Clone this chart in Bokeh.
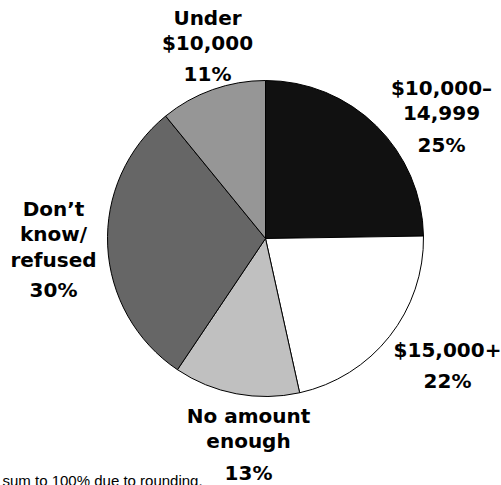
import math
from bokeh.plotting import figure
from bokeh.models import ColumnDataSource, Range1d
from bokeh.core.properties import value
from bokeh.embed import file_html
from bokeh.resources import INLINE

# ---- data (clockwise from 12 o'clock) ----
categories = ["$10,000–14,999", "$15,000+", "No amount enough", "Don’t know/refused", "Under $10,000"]
label_lines = [["$10,000–", "14,999"], ["$15,000+"], ["No amount", "enough"],
               ["Don’t", "know/", "refused"], ["Under", "$10,000"]]
shares = [25, 22, 13, 30, 11]
colors = ["#111111", "#ffffff", "#c0c0c0", "#666666", "#969696"]
footnote = "sum to 100% due to rounding."

# ---- layout (picture pixel coordinates) ----
W, H = 501, 485
TEXT_SHIFT = 8
def wy(y):
    return H - y

cx, cy, r = 265, wy(238), 158
label_x = [441, 447, 248, 53, 207]
name_baselines = [[95, 120.5], [357], [423, 448], [216, 241.5, 267], [25, 50.5]]
pct_baseline = [152.5, 388, 480, 297, 81]

total = float(sum(shares))
starts, ends = [], []
acc = 0.0
for s in shares:
    a0 = math.pi / 2 - 2 * math.pi * acc / total
    acc += s
    a1 = math.pi / 2 - 2 * math.pi * acc / total
    starts.append(a0)
    ends.append(a1)

src = ColumnDataSource(dict(cat=categories, share=shares, start=starts, end=ends, color=colors))

p = figure(width=W, height=H, output_backend="svg", toolbar_location=None,
           x_range=Range1d(0, W), y_range=Range1d(0, H), min_border=0)
p.axis.visible = False
p.grid.visible = False
p.outline_line_color = None
p.background_fill_color = "white"
p.border_fill_color = "white"

p.wedge(x=cx, y=cy, radius=r, start_angle="start", end_angle="end", direction="clock",
        fill_color="color", line_color="black", line_width=1, source=src)

tx, ty, tt = [], [], []
for i, lines in enumerate(label_lines):
    for ln, b in zip(lines, name_baselines[i]):
        tx.append(label_x[i]); ty.append(wy(b - TEXT_SHIFT)); tt.append(ln)
    tx.append(label_x[i]); ty.append(wy(pct_baseline[i] - TEXT_SHIFT)); tt.append(f"{shares[i]}%")

p.text(x=tx, y=ty, text=tt, text_font=value("DejaVu Sans"), text_font_style="bold",
       text_font_size="20px", text_align="center", text_baseline="alphabetic", text_color="black")

p.text(x=[2], y=[wy(488 - TEXT_SHIFT)], text=[footnote], text_font=value("Liberation Sans"),
       text_font_size="15px", text_align="left", text_baseline="alphabetic", text_color="black")

open("out.html", "w").write(file_html(p, INLINE))
